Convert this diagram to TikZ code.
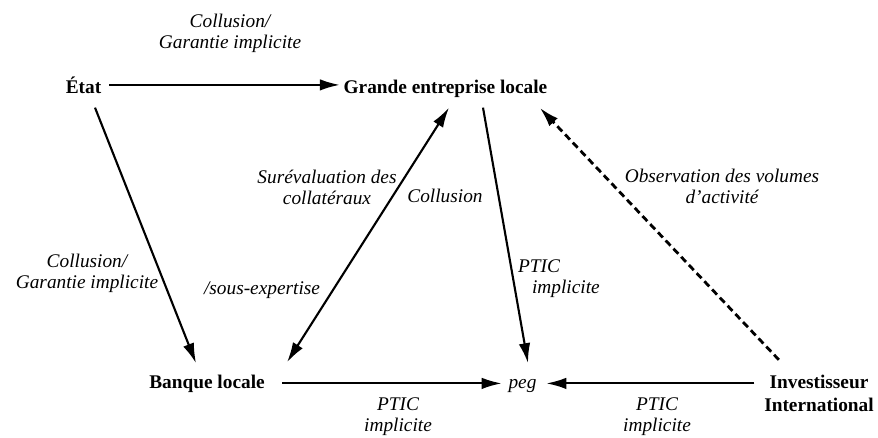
\documentclass[tikz,border=0pt]{standalone}
\usepackage{fontspec}
\setmainfont{Liberation Serif}
\usetikzlibrary{arrows.meta}

\tikzset{
  acteur/.style={font=\fontsize{11}{13}\selectfont\bfseries, inner sep=2pt,
    text height=7.7pt, text depth=2.4pt},
  lien/.style={font=\fontsize{11}{12}\selectfont\itshape, align=center, inner sep=1pt},
  pointe/.tip={Latex[length=4mm,width=2.3mm]},
  fleche/.style={-pointe, line width=1.2pt},
  pointille/.style={fleche, line width=1.6pt, dash pattern=on 4pt off 2.4pt},
}

\begin{document}
\begin{tikzpicture}[x=0.02cm,y=-0.02cm]
  \useasboundingbox (0,0) rectangle (878,437);
  % acteurs
  \node[acteur] (etat) at (83.5,88.4) {État};
  \node[acteur] (ge) at (445.5,88.4) {Grande entreprise locale};
  \node[acteur] (banque) at (207,383.4) {Banque locale};
  \node[acteur,font=\fontsize{11}{12}\selectfont\itshape\mdseries] (peg) at (522.5,383.4) {peg};
  \node[acteur,align=center,text height=,text depth=] (inv) at (819,393.4) {Investisseur\\International};
  % liens
  \draw[fleche] ([shift={(4,-3.5)}]etat.east) -- ([shift={(0,-3.5)}]ge.west);
  \draw[fleche] ([shift={(11.5,6.5)}]etat.south) -- ([shift={(-11,-7.5)}]banque.north);
  \draw[fleche,pointe-pointe] ([shift={(18.5,-8.5)}]banque.north east) -- ([shift={(3.5,6.5)}]ge.south);
  \draw[fleche] ([shift={(37.5,6.5)}]ge.south) -- ([shift={(5.5,-7.5)}]peg.north);
  \draw[pointille] ([shift={(18.5,-11.5)}]inv.north west) -- ([shift={(-11.5,6.5)}]ge.south east);
  \draw[fleche] ([shift={(13.5,0)}]banque.east) -- ([shift={(-3,0)}]peg.west);
  \draw[fleche] ([shift={(-6,0)}]inv.west |- peg.east) -- ([shift={(6,0)}]peg.east);
  % etiquettes
  \node[lien] (l1) at (230,33) {Collusion/\\Garantie implicite};
  \node[lien] (l2) at (87,273.5) {Collusion/\\Garantie implicite};
  \node[lien] (l3) at (327,187) {Surévaluation des\\collatéraux};
  \node[lien] (l4) at (445,196) {Collusion};
  \node[lien] (l5) at (262,290.5) {/sous-expertise};
  \node[lien,align=left,anchor=west] (l6) at (516,279) {PTIC\\\hspace*{0.28cm}implicite};
  \node[lien] (l7) at (722,186) {Observation des volumes\\d'activité};
  \node[lien] (l8) at (398,416.5) {PTIC\\implicite};
  \node[lien] (l9) at (657,416.5) {PTIC\\implicite};
\end{tikzpicture}
\end{document}
